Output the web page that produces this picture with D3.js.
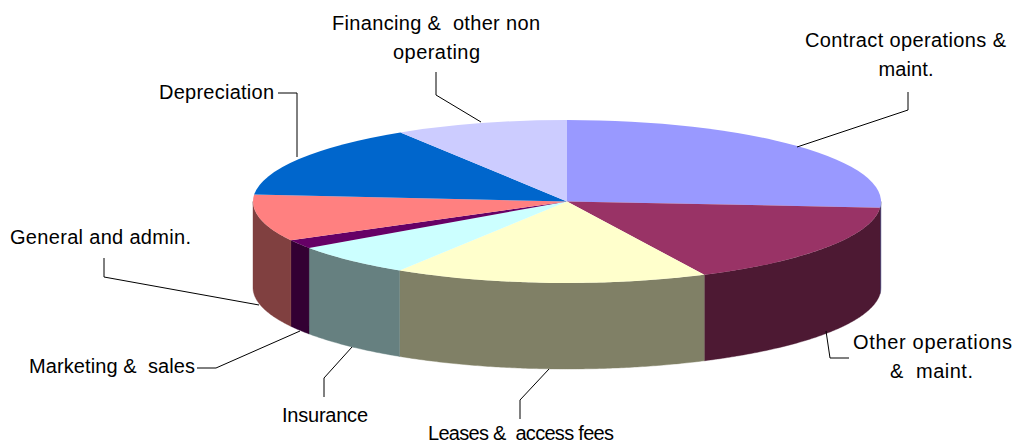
<!DOCTYPE html>
<html><head><meta charset="utf-8">
<script src="https://cdn.jsdelivr.net/npm/d3@7"></script>
<style>html,body{margin:0;padding:0;background:#fff;overflow:hidden}svg{display:block}
text{font-family:"Liberation Sans",Arial,sans-serif;font-size:20px;fill:#000;white-space:pre}</style>
</head><body><svg width="1016" height="444"></svg>
<script>
const categories = ["Contract operations & maint.","Other operations & maint.","Leases & access fees","Insurance","Marketing & sales","General and admin.","Depreciation","Financing & other non operating"];
const values = [26.2,16.6,16.15,6.4,1.75,9.25,14.75,8.9];
const topColors = ["#9999FF","#993366","#FFFFCC","#CCFFFF","#660066","#FF8080","#0066CC","#CCCCFF"];
const sideColors = ["#4D4D80","#4D1933","#808066","#668080","#330033","#804040","#003366","#666680"];

const W=1016,H=444,cx=567,cy=201.5,rx=314,ry=81.5,depth=86;
const svg=d3.select("svg").attr("viewBox",[0,0,W,H]);
const arcs=d3.pie().value(d=>d).sort(null)(values);
const px=a=>cx+rx*Math.sin(a), py=a=>cy-ry*Math.cos(a);
const step=Math.PI/360;

// side walls (front half only)
const front=[Math.PI/2,3*Math.PI/2];
const line=d3.line();
arcs.forEach((d,i)=>{
  const a0=Math.max(d.startAngle,front[0]),a1=Math.min(d.endAngle,front[1]);
  if(a1<=a0) return;
  const as=d3.range(a0,a1,step).concat([a1]);
  const pts=as.map(a=>[px(a),py(a)]).concat(as.slice().reverse().map(a=>[px(a),py(a)+depth]));
  svg.append("path").attr("d",line(pts)+"Z").attr("fill",sideColors[i]).attr("stroke",sideColors[i]).attr("stroke-width",0.4);
});
// top faces
const arc=d3.arc().innerRadius(0).outerRadius(rx);
svg.append("g").attr("transform",`translate(${cx},${cy}) scale(1,${ry/rx})`)
  .selectAll("path").data(arcs).join("path")
  .attr("d",arc).attr("fill",(d,i)=>topColors[i]);

// leader lines
const leaders=[
 [[797,147],[908,110],[908,92]],
 [[826,331],[830,358],[849,358]],
 [[549,369],[520,400],[520,419]],
 [[352,347],[324,378],[324,397]],
 [[300,331],[216,368],[197,368]],
 [[259,305],[104,277],[104,258]],
 [[297,157],[297,93],[278,93]],
 [[481,122],[436,95],[436,72]]
];
svg.append("g").selectAll("path").data(leaders).join("path")
 .attr("d",d=>line(d)).attr("fill","none").attr("stroke","#000").attr("stroke-width",1);

// labels: [text, centre x, baseline y, fitted width]
const labelLines=[
 ["Contract operations &",905.5,47,201],
 ["maint.",906,76,55],
 ["Other operations",932.5,349,159],
 ["&  maint.",931.5,378,83],
 ["Leases &  access fees",521,439.5,186],
 ["Insurance",325,422,86],
 ["Marketing &  sales",112,373,166],
 ["General and admin.",100.5,244,181],
 ["Depreciation",216.5,99,115],
 ["Financing &  other non",436,30,208],
 ["operating",436.5,59,87]
];
svg.append("g").selectAll("text").data(labelLines).join("text")
 .attr("x",d=>d[1]).attr("y",d=>d[2]).attr("text-anchor","middle")
 .attr("textLength",d=>d[3]).attr("lengthAdjust","spacing").text(d=>d[0]);
</script></body></html>
